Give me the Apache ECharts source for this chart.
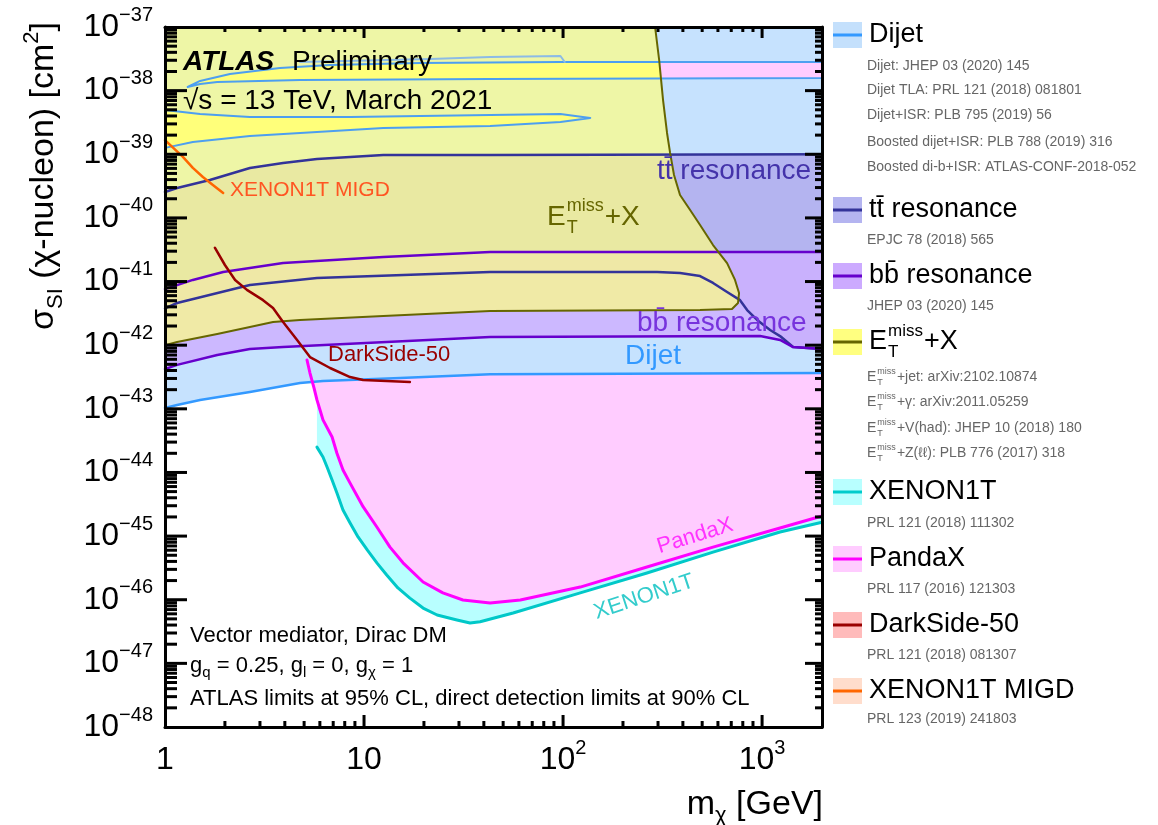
<!DOCTYPE html>
<html>
<head>
<meta charset="utf-8">
<title>Vector mediator, Dirac DM – SI cross-section limits</title>
<script src="https://cdn.jsdelivr.net/npm/echarts@6.0.0/dist/echarts.min.js"></script>
<style>
  html, body { margin: 0; padding: 0; background: #fff; }
  #chart { width: 1158px; height: 825px; }
</style>
</head>
<body>
<div id="chart"></div>
<script>
const FONT = '"Liberation Sans", Arial, Helvetica, sans-serif';

// ---------- axis ranges ----------
const massRange = [1, 2000];          // m_chi [GeV]
const xsecRange = [1e-48, 1e-37];     // sigma_SI [cm^2]

// ---------- contours: [m_chi (GeV), sigma_SI (cm^2)] ----------
// Dijet: lower edge of the excluded area, plus two allowed gaps inside it
const dijetBottom = [[1,1.03e-43],[1.15,1.15e-43],[1.5,1.38e-43],[2.67,1.84e-43],[4.77,2.55e-43],[6.22,2.74e-43],[15.2,3.05e-43],[43,3.5e-43],[2000,3.65e-43]];
const dijetGap1 = [[1.30,1.14e-38],[1.5,1.42e-38],[2.12,1.83e-38],[3.78,2.27e-38],[6.75,2.53e-38],[19.1,2.72e-38],[97,2.82e-38],[2000,2.82e-38],
                   [2000,1.58e-38],[43,1.52e-38],[4.77,1.47e-38],[1.83,1.37e-38],[1.5,1.27e-38]];
const dijetGap2 = [[1,4.97e-39],[1.5,4.3e-39],[2.67,3.85e-39],[8.51,3.85e-39],[43,4.14e-39],[97,4.3e-39],[137,3.72e-39],
                   [97,3.22e-39],[43,2.78e-39],[12.5,2.59e-39],[5.8,2.24e-39],[2.67,1.94e-39],[1.38,1.56e-39],[1,1.26e-39]];
const dijetUpperContour = [[4.77,2.82e-38],[21.5,3.14e-38],[43,3.38e-38],[97,3.5e-38],[102,2.82e-38]];

// ttbar resonance
const ttTop = [[1,2.55e-40],[1.15,2.95e-40],[1.68,3.94e-40],[2.67,6.1e-40],[3.92,7.3e-40],[5.8,8.4e-40],[12.5,9.75e-40],[43,9.75e-40],[2000,1.0e-39]];
const ttBottom = [[1,3.8e-42],[1.15,4.6e-42],[2.67,8.8e-42],[5.8,1.14e-41],[43,1.41e-41],[297,1.41e-41],[387,1.36e-41],[488,1.22e-41],[567,9.5e-42],
                  [667,6.85e-42],[775,5.1e-42],[841,3.57e-42],[944,2.49e-42],[1097,1.73e-42],[1231,1.39e-42],[1432,9.35e-43],[2000,8.7e-43]];

// bbbar resonance
const bbTop = [[1,7.6e-42],[1.15,8.8e-42],[1.38,1.06e-41],[1.96,1.41e-41],[3.92,1.95e-41],[12.5,2.43e-41],[43,2.9e-41],[2000,2.9e-41]];
const bbBottom = [[1,4.2e-43],[1.15,4.9e-43],[1.83,7.0e-43],[2.67,8.7e-43],[3.92,9.35e-43],[43,1.35e-42],[977,1.39e-42],[1231,1.21e-42],[1432,9.35e-43],[2000,8.7e-43]];

// E_T^miss+X: right edge from the top of the frame, then the lower edge back to m = 1 GeV
const emissEdge = [[290,1e-37],[304,3.03e-38],[318,7.1e-39],[333,2.16e-39],[345,1.05e-39],[361,4.72e-40],[387,2.29e-40],[435,1.33e-40],[488,7.74e-41],
                   [567,3.75e-41],[667,1.95e-41],[731,1.06e-41],[766,6.6e-42],[757,4.6e-42],[706,3.7e-42],[488,3.57e-42],[43,3.45e-42],[12.5,2.88e-42],
                   [4.77,2.49e-42],[3.49,2.31e-42],[2.67,1.93e-42],[1.83,1.5e-42],[1.15,1.12e-42],[1,1.0e-42]];

// direct detection (90% CL)
const xenon1t = [[5.8,2.5e-44],[6.22,1.75e-44],[6.52,1.22e-44],[6.91,7.6e-45],[7.31,4.75e-45],[7.84,2.57e-45],[8.51,1.61e-45],[9.33,9.7e-46],[10.4,6.0e-46],
                 [11.6,3.8e-46],[13.0,2.45e-46],[14.8,1.53e-46],[17.0,1.06e-46],[19.8,7.4e-47],[23.3,5.75e-47],[29.3,4.8e-47],[34.1,4.3e-47],[38.3,4.5e-47],
                 [56.1,6.2e-47],[122,1.28e-46],[264,2.63e-46],[567,5.6e-46],[1231,1.16e-45],[2000,1.65e-45]];
const pandax = [[5.17,5.85e-43],[5.35,3.65e-43],[5.61,2.12e-43],[5.80,1.38e-43],[6.01,9.6e-44],[6.22,6.7e-44],[6.91,3.6e-44],[7.31,2.0e-44],[7.84,1.09e-44],
                [8.51,6.8e-45],[9.89,2.9e-45],[11.6,1.39e-45],[13.5,6.7e-46],[15.7,3.8e-46],[19.8,1.9e-46],[24.9,1.28e-46],[31.4,9.9e-47],[43,8.9e-47],
                [61,9.9e-47],[122,1.58e-46],[264,3.27e-46],[567,6.7e-46],[1231,1.34e-45],[2000,2.07e-45]];
const darkside50 = [[1.78,3.4e-41],[2.0,1.82e-41],[2.25,1.06e-41],[2.58,7.4e-42],[3.11,5.1e-42],[3.49,3.84e-42],[3.92,2.31e-42],[4.61,1.21e-42],
                    [5.35,6.5e-43],[6.75,4.38e-43],[8.51,3.16e-43],[9.89,2.84e-43],[17.0,2.64e-43]];
const xenon1tMigd = [[1,1.67e-39],[1.23,9.1e-40],[1.38,6.1e-40],[1.55,4.4e-40],[1.74,3.3e-40],[1.96,2.46e-40]];

// ---------- legend entries ----------
const legendEntries = [
  { name: 'Dijet', fill: '#c4e0fc', line: '#3399ff',
    refs: ['Dijet: JHEP 03 (2020) 145', 'Dijet TLA: PRL 121 (2018) 081801', 'Dijet+ISR: PLB 795 (2019) 56',
           'Boosted dijet+ISR: PLB 788 (2019) 316', 'Boosted di-b+ISR: ATLAS-CONF-2018-052'] },
  { name: 'tt\u0304 resonance', fill: '#b4b4f0', line: '#333399', refs: ['EPJC 78 (2018) 565'] },
  { name: 'bb\u0304 resonance', fill: '#ccaaff', line: '#6600cc', refs: ['JHEP 03 (2020) 145'] },
  { name: 'EMISS', fill: '#ffff80', line: '#666600',
    refs: ['EMISS+jet: arXiv:2102.10874', 'EMISS+\u03b3: arXiv:2011.05259', 'EMISS+V(had): JHEP 10 (2018) 180', 'EMISS+Z(\u2113\u2113): PLB 776 (2017) 318'] },
  { name: 'XENON1T', fill: '#b8ffff', line: '#00cccc', refs: ['PRL 121 (2018) 111302'] },
  { name: 'PandaX', fill: '#ffccff', line: '#ff00ff', refs: ['PRL 117 (2016) 121303'] },
  { name: 'DarkSide-50', fill: '#ffbbbb', line: '#990000', refs: ['PRL 121 (2018) 081307'] },
  { name: 'XENON1T MIGD', fill: '#ffddcc', line: '#ff6600', refs: ['PRL 123 (2019) 241803'] }
];

// ---------- helpers ----------
const lg = Math.log10;
const toLog = pts => pts.map(p => [lg(p[0]), lg(p[1])]);
const X0 = lg(massRange[0]), X1 = lg(massRange[1]);
const Y0 = lg(xsecRange[0]), Y1 = lg(xsecRange[1]);
const TOP = xsecRange[1], MMAX = massRange[1], MMIN = massRange[0];

// keep the part of a polygon lying left of the directed line a->b (screen space)
function clipLeftOf(pts, a, b) {
  const side = p => (b[0] - a[0]) * (p[1] - a[1]) - (b[1] - a[1]) * (p[0] - a[0]);
  const out = [];
  for (let i = 0; i < pts.length; i++) {
    const p = pts[i], q = pts[(i + 1) % pts.length];
    const sp = side(p), sq = side(q);
    if (sp >= 0) out.push(p);
    if ((sp >= 0) !== (sq >= 0)) {
      const t = sp / (sp - sq);
      out.push([p[0] + t * (q[0] - p[0]), p[1] + t * (q[1] - p[1])]);
    }
  }
  return out;
}

// filled polygons; an optional clip line (two data points) keeps only the part left of it
function areaSeries(name, polys, fill, opacity, z, clipLine) {
  const lp = polys.map(toLog);
  const lc = clipLine ? toLog(clipLine) : null;
  return {
    type: 'custom', name, z, silent: true, clip: true,
    data: [lp[0][0]],
    renderItem(params, api) {
      const children = lp.map(poly => {
        let pts = poly.map(p => api.coord(p));
        if (lc) pts = clipLeftOf(pts, api.coord(lc[0]), api.coord(lc[1]));
        return { type: 'polygon', shape: { points: pts }, style: { fill, opacity, stroke: null } };
      });
      return { type: 'group', children };
    }
  };
}

function lineSeries(name, pts, color, width, z, closed) {
  const data = toLog(closed ? pts.concat([pts[0]]) : pts);
  return {
    type: 'line', name, z, data, symbol: 'none', showSymbol: false, silent: true,
    lineStyle: { color, width, cap: 'round', join: 'round' }, emphasis: { disabled: true }
  };
}

// ---------- tick marks on all four frame sides ----------
const tickData = [];
for (let n = Math.floor(X0); n <= Math.ceil(X1); n++) {
  for (let k = 1; k <= 9; k++) {
    const v = n + lg(k);
    if (v <= X0 + 1e-6 || v >= X1 - 1e-6) continue;
    tickData.push([v, 0, k === 1 ? 1 : 0], [v, 1, k === 1 ? 1 : 0]);
  }
}
for (let n = Y0; n < Y1; n++) {
  for (let k = 1; k <= 9; k++) {
    const v = n + lg(k);
    if (v <= Y0 + 1e-6 || v >= Y1 - 1e-6) continue;
    tickData.push([v, 2, k === 1 ? 1 : 0], [v, 3, k === 1 ? 1 : 0]);
  }
}
const tickSeries = {
  type: 'custom', name: 'ticks', z: 40, silent: true, data: tickData,
  renderItem(params, api) {
    const v = api.value(0), side = api.value(1), major = api.value(2);
    let p, q;
    if (side === 0) { p = api.coord([v, Y0]); q = [p[0], p[1] - (major ? 12 : 6)]; }
    else if (side === 1) { p = api.coord([v, Y1]); q = [p[0], p[1] + (major ? 11 : 5)]; }
    else if (side === 2) { p = api.coord([X0, v]); q = [p[0] + (major ? 22 : 12), p[1]]; }
    else { p = api.coord([X1, v]); q = [p[0] - (major ? 17 : 7), p[1]]; }
    return { type: 'line', shape: { x1: p[0], y1: p[1], x2: q[0], y2: q[1] }, style: { stroke: '#000', lineWidth: 3 } };
  }
};

// ---------- regions ----------
const emissPoly = [[MMIN, TOP]].concat(emissEdge);
const dijetPoly = [[MMIN, TOP], [MMAX, TOP]].concat(dijetBottom.slice().reverse());
const ttPoly = ttTop.concat(ttBottom.slice().reverse());
const bbPoly = bbTop.concat(bbBottom.slice().reverse());
const xenonPoly = xenon1t.concat([[MMAX, TOP], [xenon1t[0][0], TOP]]);
const pandaxPoly = pandax.concat([[MMAX, TOP], [pandax[0][0], TOP]]);
const emissUpperEdge = [emissEdge[0], emissEdge[2]];

const series = [
  areaSeries('XENON1T area', [xenonPoly], '#b8ffff', 1, 1),
  areaSeries('PandaX area', [pandaxPoly], '#ffccff', 1, 2),
  areaSeries('Dijet area', [dijetPoly], '#c6e2fe', 1, 3),
  areaSeries('Dijet gaps', [dijetGap1, dijetGap2], '#ffccff', 1, 4),
  areaSeries('ttbar area', [ttPoly], '#b4b4f0', 1, 6),
  areaSeries('bbbar area', [bbPoly], '#cdb0ff', 0.85, 7),
  areaSeries('Emiss area', [emissPoly], '#ffff80', 0.7, 8),
  areaSeries('Dijet gaps inside Emiss', [dijetGap1, dijetGap2], '#ffff7a', 1, 9, emissUpperEdge),

  lineSeries('Dijet', dijetBottom, '#3399ff', 2.5, 10),
  lineSeries('Dijet gap 1', dijetGap1, '#4d9ff0', 2, 10, true),
  lineSeries('Dijet gap 2', dijetGap2, '#4d9ff0', 2, 10, true),
  lineSeries('Dijet upper contour', dijetUpperContour, '#8cbbe6', 2, 10),
  lineSeries('ttbar top', ttTop, '#333399', 2.5, 11),
  lineSeries('ttbar bottom', ttBottom, '#333399', 2.5, 11),
  lineSeries('bbbar top', bbTop, '#6600cc', 2.5, 12),
  lineSeries('bbbar bottom', bbBottom, '#6600cc', 2.5, 12),
  lineSeries('Emiss', emissEdge, '#666600', 2, 13),
  lineSeries('XENON1T', xenon1t, '#00c8c8', 3, 14),
  lineSeries('PandaX', pandax, '#ff00ff', 3, 15),
  lineSeries('DarkSide-50', darkside50, '#990000', 2.5, 16),
  lineSeries('XENON1T MIGD', xenon1tMigd, '#ff6600', 2.5, 16),
  tickSeries
];

// ---------- axes ----------
const labelRich = {
  b: { fontSize: 32, lineHeight: 44, fontFamily: FONT, color: '#000' },
  s: { fontSize: 20, lineHeight: 20, verticalAlign: 'top', fontFamily: FONT, color: '#000' }
};
const isInt = v => Math.abs(v - Math.round(v)) < 1e-6;
const frameLine = { show: true, onZero: false, lineStyle: { color: '#000', width: 3 } };

const xAxis = [
  { type: 'value', min: X0, max: X1, interval: 1, position: 'bottom', z: 30,
    axisLine: frameLine, axisTick: { show: false }, splitLine: { show: false },
    axisLabel: { margin: 11, rich: labelRich,
      formatter: v => { if (!isInt(v)) return ''; const n = Math.round(v);
        return n === 0 ? '{b|1}' : n === 1 ? '{b|10}' : '{b|10}{s|' + n + '}'; } } },
  { type: 'value', min: X0, max: X1, interval: 1, position: 'top', z: 30,
    axisLine: frameLine, axisTick: { show: false }, splitLine: { show: false }, axisLabel: { show: false } }
];
const yAxis = [
  { type: 'value', min: Y0, max: Y1, interval: 1, position: 'left', z: 30,
    axisLine: frameLine, axisTick: { show: false }, splitLine: { show: false },
    axisLabel: { margin: 12, align: 'right', rich: labelRich,
      formatter: v => isInt(v) ? '{b|10}{s|\u2212' + Math.abs(Math.round(v)) + '}' : '' } },
  { type: 'value', min: Y0, max: Y1, interval: 1, position: 'right', z: 30,
    axisLine: frameLine, axisTick: { show: false }, splitLine: { show: false }, axisLabel: { show: false } }
];

// ---------- text ----------
function T(x, y, text, size, color, more) {
  const style = Object.assign({
    text, fill: color || '#000', fontSize: size, fontFamily: FONT,
    align: 'left', verticalAlign: 'middle', textAlign: 'left', textVerticalAlign: 'middle'
  }, (more && more.style) || {});
  return Object.assign({ type: 'text', x, y, z: 100, silent: true, style }, (more && more.el) || {});
}

// E_T^miss with stacked super/subscript, followed by a tail string
function emissText(x, y, size, color, tail) {
  const sm = Math.round(size * 0.64);
  const ew = size * 0.667;
  const mw = sm * 2.06;
  return [
    T(x, y, 'E', size, color),
    T(x + ew + 1, y - size * 0.38, 'miss', sm, color),
    T(x + ew + 1, y + size * 0.40, 'T', sm, color),
    T(x + ew + mw + 2, y, tail, size, color)
  ];
}

const graphic = [];

// y-axis title
graphic.push({
  type: 'text', x: 44, y: 176, rotation: Math.PI / 2, z: 100, silent: true,
  style: {
    text: '{a|\u03c3}{s|SI}{a| (\u03c7-nucleon) [cm}{p|2}{a|]}',
    align: 'center', verticalAlign: 'middle', textAlign: 'center', textVerticalAlign: 'middle',
    rich: {
      a: { fontSize: 34, lineHeight: 46, fontFamily: FONT, fill: '#000' },
      s: { fontSize: 22, lineHeight: 22, verticalAlign: 'bottom', fontFamily: FONT, fill: '#000' },
      p: { fontSize: 22, lineHeight: 22, verticalAlign: 'top', fontFamily: FONT, fill: '#000' }
    }
  }
});
// x-axis title
graphic.push({
  type: 'text', x: 823, y: 805, z: 100, silent: true,
  style: {
    text: '{a|m}{s|\u03c7}{a| [GeV]}',
    align: 'right', verticalAlign: 'middle', textAlign: 'right', textVerticalAlign: 'middle',
    rich: {
      a: { fontSize: 34, lineHeight: 44, fontFamily: FONT, fill: '#000' },
      s: { fontSize: 22, lineHeight: 22, verticalAlign: 'bottom', fontFamily: FONT, fill: '#000' }
    }
  }
});

// plot annotations
graphic.push(
  T(183, 62, 'ATLAS', 28, '#000', { style: { fontStyle: 'italic', fontWeight: 'bold' } }),
  T(292, 62, 'Preliminary', 28, '#000'),
  T(183, 101, '\u221as = 13 TeV, March 2021', 28, '#000'),
  T(230, 190, 'XENON1T MIGD', 21, '#ff5522'),
  T(657, 171, 'tt\u0304 resonance', 28, '#4433aa'),
  T(637, 323, 'bb\u0304 resonance', 28, '#7733dd'),
  T(625, 356, 'Dijet', 28, '#3399ff'),
  T(328, 355, 'DarkSide-50', 22, '#990000'),
  T(695, 536, 'PandaX', 22, '#ff33ff', { style: { align: 'center', textAlign: 'center' }, el: { rotation: 0.3 } }),
  T(644, 597, 'XENON1T', 22, '#33cccc', { style: { align: 'center', textAlign: 'center' }, el: { rotation: 0.32 } }),
  T(190, 636, 'Vector mediator, Dirac DM', 22, '#000')
);
graphic.push(...emissText(547, 217, 28, '#666600', '+X'));
graphic.push({
  type: 'text', x: 190, y: 666, z: 100, silent: true,
  style: {
    text: '{a|g}{s|q}{a| = 0.25, g}{s|l}{a| = 0, g}{s|\u03c7}{a| = 1}',
    align: 'left', verticalAlign: 'middle', textAlign: 'left', textVerticalAlign: 'middle',
    rich: {
      a: { fontSize: 22, lineHeight: 28, fontFamily: FONT, fill: '#000' },
      s: { fontSize: 15, lineHeight: 15, verticalAlign: 'bottom', fontFamily: FONT, fill: '#000' }
    }
  }
});
graphic.push(T(190, 699, 'ATLAS limits at 95% CL, direct detection limits at 90% CL', 22, '#000'));

// legend
const legendSlots = [
  { y: 35, refs: [66, 90, 115, 142, 167] },
  { y: 210, refs: [240] },
  { y: 276, refs: [306] },
  { y: 342, refs: [377, 402, 428, 453] },
  { y: 492, refs: [523] },
  { y: 559, refs: [589] },
  { y: 625, refs: [655] },
  { y: 691, refs: [719] }
];
legendEntries.forEach((e, i) => {
  const s = legendSlots[i];
  graphic.push({ type: 'rect', z: 100, silent: true, shape: { x: 833, y: s.y - 13, width: 29, height: 26 }, style: { fill: e.fill } });
  graphic.push({ type: 'line', z: 101, silent: true, shape: { x1: 833, y1: s.y, x2: 862, y2: s.y }, style: { stroke: e.line, lineWidth: 3 } });
  if (e.name === 'EMISS') graphic.push(...emissText(869, s.y, 27, '#000', '+X'));
  else graphic.push(T(869, s.y, e.name, 27, '#000'));
  e.refs.forEach((r, j) => {
    if (r.startsWith('EMISS')) graphic.push(...emissText(867, s.refs[j], 14, '#666', r.slice(5)));
    else graphic.push(T(867, s.refs[j], r, 14, '#666'));
  });
});

const chart = echarts.init(document.getElementById('chart'), null, { renderer: 'canvas' });
chart.setOption({
  animation: false,
  backgroundColor: '#fff',
  textStyle: { fontFamily: FONT },
  grid: { left: 165, top: 27, width: 657, height: 700, containLabel: false, outerBoundsMode: 'none' },
  xAxis, yAxis, series, graphic
});
</script>
</body>
</html>
